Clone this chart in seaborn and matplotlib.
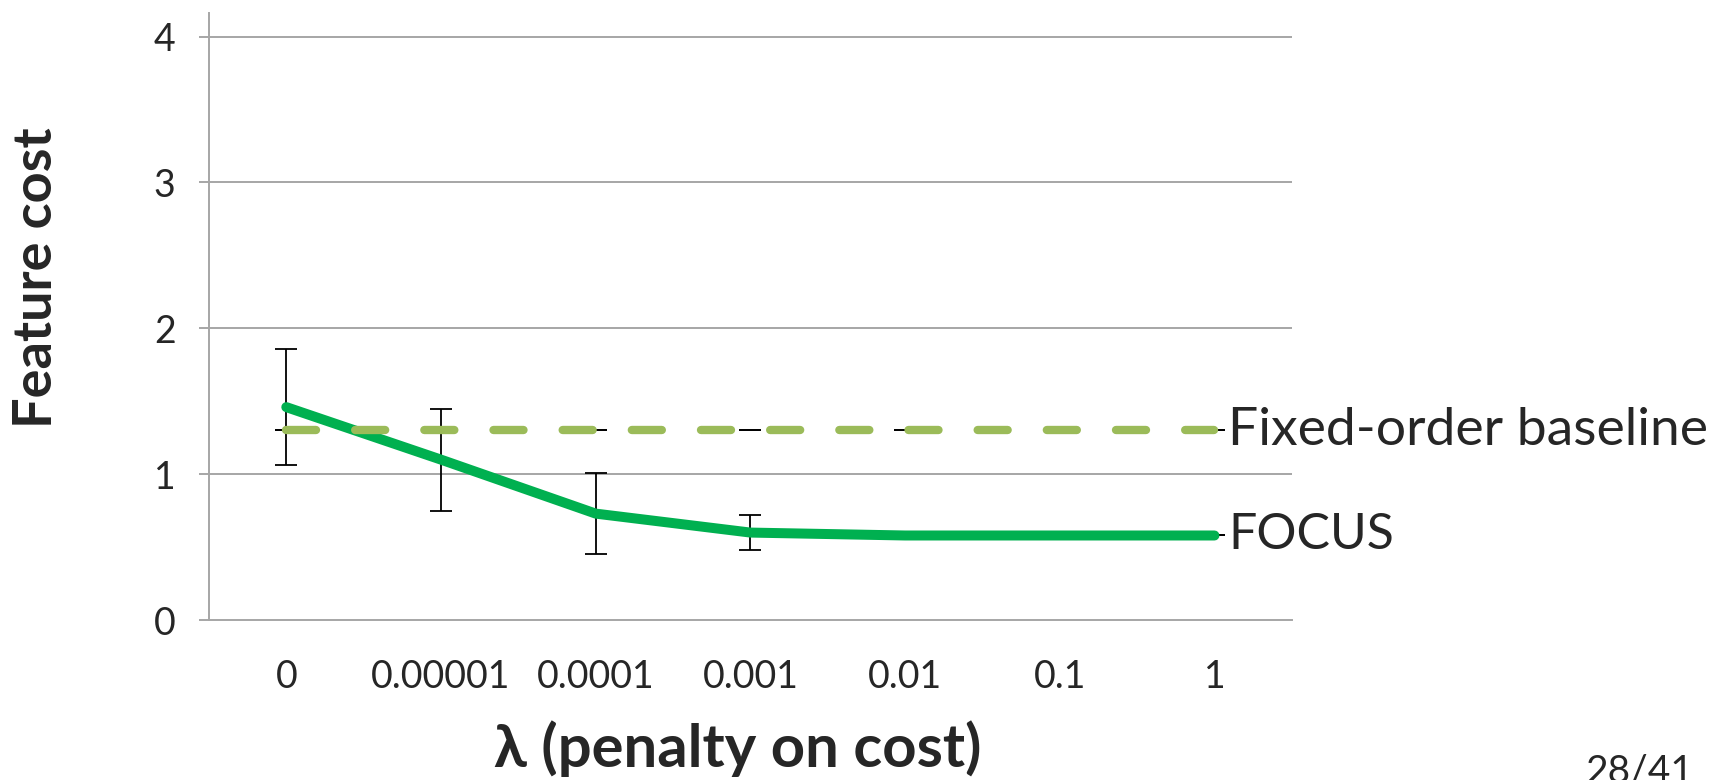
import numpy as np
import pandas as pd
import seaborn as sns
import matplotlib.pyplot as plt

# values
lambdas = ["0", "0.00001", "0.0001", "0.001", "0.01", "0.1", "1"]
focus_cost = [1.46, 1.10, 0.73, 0.60, 0.58, 0.58, 0.58]
focus_err = [0.40, 0.35, 0.28, 0.12, 0.0, 0.0, 0.0]
baseline_cost = [1.30, 1.30, 1.30, 1.30, 1.30, 1.30, 1.30]
baseline_err = [0.0, 0.0, 0.0, 0.0, 0.0, 0.0, 0.0]

sns.set_style("white")
plt.rcParams['font.family'] = ['Lato', 'DejaVu Sans']

df = pd.DataFrame({"lam": np.arange(len(lambdas)),
                   "focus": focus_cost,
                   "baseline": baseline_cost})

fig = plt.figure(figsize=(17.27, 7.8), dpi=100)
ax = fig.add_axes([0.121, 0.205, 0.627, 0.778])

grid_col = "#A6A6A6"
for yv in [1, 2, 3, 4]:
    ax.axhline(yv, color=grid_col, lw=1.4, zorder=0)

ax.errorbar(df["lam"], df["focus"], yerr=focus_err, fmt="none", ecolor="black",
            elinewidth=1.3, capsize=8, capthick=1.3, zorder=1.5)
sns.lineplot(data=df, x="lam", y="focus", ax=ax, color="#00B050", lw=7.2,
             solid_capstyle="round", solid_joinstyle="round", zorder=2)
ax.errorbar(df["lam"], df["baseline"], yerr=baseline_err, fmt="none", ecolor="black",
            elinewidth=1.3, capsize=8, capthick=1.3, zorder=3)
sns.lineplot(data=df, x="lam", y="baseline", ax=ax, color="#9BBB59", lw=6,
             dashes=False, zorder=4)
ax.lines[-1].set_dashes((3.6, 4.7))
ax.lines[-1].set_dash_capstyle("round")

ax.annotate("Fixed-order baseline", xy=(6, baseline_cost[-1]), xytext=(10, 0),
            textcoords="offset points", va="center", ha="left", fontsize=38.5)
ax.annotate("FOCUS", xy=(6, focus_cost[-1]), xytext=(10, 0),
            textcoords="offset points", va="center", ha="left", fontsize=36)

ax.set_xlim(-0.5, 6.5)
ax.set_ylim(0, 4.16)
ax.set_xticks(df["lam"])
ax.set_xticklabels(lambdas, fontsize=27)
ax.set_yticks([0, 1, 2, 3, 4])
ax.set_yticklabels(["0", "1", "2", "3", "4"], fontsize=27)
ax.tick_params(axis="y", length=7, width=1.4, color=grid_col, pad=17, left=True)
ax.tick_params(axis="x", length=0, pad=28)

for side in ["top", "right"]:
    ax.spines[side].set_visible(False)
for side in ["left", "bottom"]:
    ax.spines[side].set_color(grid_col)
    ax.spines[side].set_linewidth(1.4)

ax.set_xlabel("λ (penalty on cost)", fontsize=43, fontweight="bold")
ax.xaxis.set_label_coords(0.488, -0.165)
ax.set_ylabel("Feature cost", fontsize=39, fontweight="bold")
ax.yaxis.set_label_coords(-0.137, 0.564)

fig.text(0.918, -0.012, "28/41", fontsize=28, ha="left", va="bottom")

fig.savefig("out.png", dpi=100)
